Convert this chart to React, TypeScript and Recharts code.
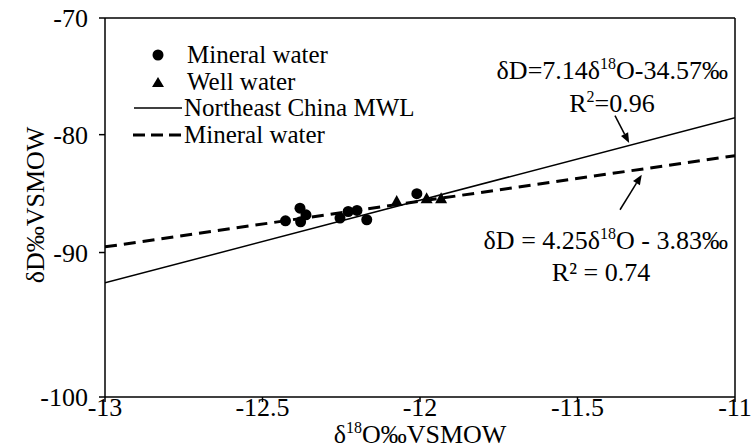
import React from 'react';
import { ComposedChart, Scatter, Line, XAxis, YAxis, ReferenceLine } from 'recharts';

// ticks
const xTicks = [-13, -12.5, -12, -11.5, -11];
const yTicks = [-100, -90, -80, -70];

// samples (δ18O, δD)
const mineralX = [-12.427, -12.381, -12.362, -12.379, -12.254, -12.228, -12.2, -12.169, -12.01];
const mineralY = [-87.31, -86.24, -86.8, -87.39, -87.08, -86.52, -86.43, -87.22, -85.01];
const wellX = [-12.074, -11.979, -11.933];
const wellY = [-85.67, -85.44, -85.44];

// trend lines, end points
const lineX = [-13, -11];
const mwlY = [-92.1, -78.54];
const fitY = [-89.52, -81.78];

// arrows: [tail, head]
const arrowMwl = [{ x: -11.381, y: -78.37 }, { x: -11.336, y: -80.7 }];
const arrowFit = [{ x: -11.365, y: -86.37 }, { x: -11.296, y: -83.4 }];

const mineralData = mineralX.map((x, i) => ({ x, y: mineralY[i] }));
const wellData = wellX.map((x, i) => ({ x, y: wellY[i] }));
const mwlData = lineX.map((x, i) => ({ x, y: mwlY[i] }));
const fitData = lineX.map((x, i) => ({ x, y: fitY[i] }));

// the source figure's y axis is not evenly spaced: where each tick sits along it (0 = bottom, 1 = top)
const yTickPos = [0, 0.3812, 0.6922, 1];

function warpScale(): any {
  let dom: number[] = [-100, -70];
  let rng: number[] = [0, 1];
  const frac = (v: number) => {
    const n = yTicks.length;
    for (let i = 0; i < n - 1; i++) {
      if (v <= yTicks[i + 1] || i === n - 2) {
        const t = (v - yTicks[i]) / (yTicks[i + 1] - yTicks[i]);
        return yTickPos[i] + t * (yTickPos[i + 1] - yTickPos[i]);
      }
    }
    return 0;
  };
  const s: any = (v: number) => rng[0] + frac(v) * (rng[rng.length - 1] - rng[0]);
  s.domain = (d?: number[]) => (d ? ((dom = [...d]), s) : dom);
  s.range = (r?: number[]) => (r ? ((rng = [...r]), s) : rng);
  s.copy = () => warpScale().domain(dom).range(rng);
  s.ticks = () => yTicks;
  s.tickFormat = () => (v: number) => String(v);
  s.clamp = () => s;
  s.nice = () => s;
  s.invert = (p: number) => {
    const f = (p - rng[0]) / (rng[rng.length - 1] - rng[0]);
    for (let i = 0; i < yTicks.length - 1; i++) {
      if (f <= yTickPos[i + 1] || i === yTicks.length - 2) {
        const t = (f - yTickPos[i]) / (yTickPos[i + 1] - yTickPos[i]);
        return yTicks[i] + t * (yTicks[i + 1] - yTicks[i]);
      }
    }
    return dom[0];
  };
  return s;
}

const FONT = "'Liberation Serif', 'Times New Roman', serif";
const FS = 26;
const LFS = 25;

const Dot = (props: any) => <circle cx={props.cx} cy={props.cy} r={5.5} fill="#000" />;
const Tri = (props: any) => {
  const { cx, cy } = props;
  return <polygon points={`${cx},${cy - 6.5} ${cx + 6},${cy + 4.5} ${cx - 6},${cy + 4.5}`} fill="#000" />;
};

const Arrow = (props: any) => {
  const { x1, y1, x2, y2 } = props;
  const a = Math.atan2(y2 - y1, x2 - x1);
  const L = 10;
  const W = 4;
  const bx = x2 - L * Math.cos(a);
  const by = y2 - L * Math.sin(a);
  const px = -Math.sin(a) * W;
  const py = Math.cos(a) * W;
  return (
    <g>
      <line x1={x1} y1={y1} x2={bx} y2={by} stroke="#000" strokeWidth={1.5} />
      <polygon points={`${x2},${y2} ${bx + px},${by + py} ${bx - px},${by - py}`} fill="#000" />
    </g>
  );
};

export default function App() {
  return (
    <div style={{ position: 'relative', width: 755, height: 448, fontFamily: FONT }}>
      <style>{'body{margin:0}'}</style>
      <ComposedChart width={755} height={448} margin={{ top: 18, right: 20, bottom: 0, left: 0 }}>
        <XAxis
          type="number"
          dataKey="x"
          domain={[-13, -11]}
          ticks={xTicks}
          allowDataOverflow
          height={51}
          stroke="#000"
          strokeWidth={1.5}
          tickSize={5}
          tickMargin={-4}
          tick={{ fill: '#000', fontSize: FS, fontFamily: FONT }}
        />
        <YAxis
          type="number"
          dataKey="y"
          scale={warpScale()}
          domain={[-100, -70]}
          ticks={yTicks}
          allowDataOverflow
          width={105}
          stroke="#000"
          strokeWidth={1.5}
          tickSize={6}
          tickMargin={11}
          tick={{ fill: '#000', fontSize: FS, fontFamily: FONT }}
        />
        <ReferenceLine y={-70} stroke="#000" strokeWidth={1.5} />
        <ReferenceLine x={-11} stroke="#000" strokeWidth={1.5} />
        <Line data={mwlData} dataKey="y" stroke="#000" strokeWidth={1.5} dot={false} isAnimationActive={false} />
        <Line data={fitData} dataKey="y" stroke="#000" strokeWidth={3} strokeDasharray="12 7" dot={false} isAnimationActive={false} />
        <Scatter data={mineralData} shape={Dot} isAnimationActive={false} />
        <Scatter data={wellData} shape={Tri} isAnimationActive={false} />
        <ReferenceLine segment={arrowMwl} shape={Arrow} />
        <ReferenceLine segment={arrowFit} shape={Arrow} />
      </ComposedChart>
      <svg width={755} height={448} style={{ position: 'absolute', left: 0, top: 0, pointerEvents: 'none' }} fontFamily={FONT} fill="#000">
        {/* legend */}
        <circle cx={158} cy={55} r={5.5} />
        <polygon points="158,77 164,87 152,87" />
        <line x1={134} y1={108} x2={182} y2={108} stroke="#000" strokeWidth={1.5} />
        <line x1={133} y1={135} x2={183} y2={135} stroke="#000" strokeWidth={3} strokeDasharray="12 6" />
        <text x={187} y={63} fontSize={LFS}>Mineral water</text>
        <text x={187} y={90} fontSize={LFS}>Well water</text>
        <text x={184} y={116} fontSize={LFS}>Northeast China MWL</text>
        <text x={184} y={143} fontSize={LFS}>Mineral water</text>
        {/* annotations */}
        <text x={728} y={79} fontSize={FS} textAnchor="end">
          δD=7.14δ<tspan dy={-10} fontSize={16}>18</tspan><tspan dy={10}>O-34.57‰</tspan>
        </text>
        <text x={612} y={112} fontSize={FS} textAnchor="middle">
          R<tspan dy={-10} fontSize={16}>2</tspan><tspan dy={10}>=0.96</tspan>
        </text>
        <text x={728} y={249} fontSize={FS} textAnchor="end">
          δD = 4.25δ<tspan dy={-10} fontSize={16}>18</tspan><tspan dy={10}>O - 3.83‰</tspan>
        </text>
        <text x={601} y={281} fontSize={FS} textAnchor="middle">R² = 0.74</text>
        {/* axis titles */}
        <text x={420} y={443} fontSize={FS} textAnchor="middle">
          δ<tspan dy={-10} fontSize={16}>18</tspan><tspan dy={10}>O‰VSMOW</tspan>
        </text>
        <text transform="translate(44,205) rotate(-90)" fontSize={FS} textAnchor="middle">δD‰VSMOW</text>
      </svg>
    </div>
  );
}
